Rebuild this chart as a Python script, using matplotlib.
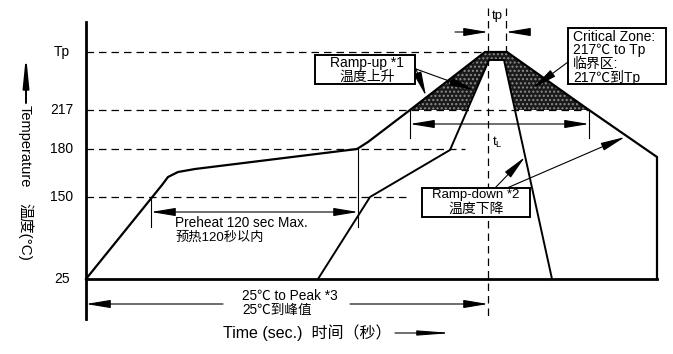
import matplotlib
matplotlib.use('Agg')
import matplotlib.pyplot as plt
from matplotlib.patches import Rectangle
import numpy as np

plt.rcParams['font.family'] = ['Liberation Sans', 'Noto Sans CJK SC']

# Diagram units: x = time position, y = temperature position (drawn top-down)
level_labels = ['Tp', '217', '180', '150', '25']
level_pos = [52, 110, 149, 197, 279]
level_dash_end = [485, 589, 465, 410, None]

# Upper (max) profile
outer_t = [86, 162, 168, 178, 195, 357, 368, 410, 485, 507, 589, 657, 657]
outer_y = [279, 185, 177, 172, 169, 149, 142, 110, 52, 52, 110, 157, 279]

# Lower (min) profile
inner_t = [318, 370, 450, 489, 504, 552]
inner_y = [279, 197, 150, 60, 60, 279]

# time markers
tp_left, tp_right = 488, 506
preheat_start, preheat_end = 151, 358
tl_start, tl_end = 410, 589

# note boxes: (x0, y0, x1, y1)
rampup_box = (315, 55, 415, 84)
critical_box = (568, 28, 666, 84)
rampdown_box = (422, 188, 530, 217)


def above(xs, ys, level):
    """Part of a polyline that lies above a temperature level."""
    pts = []
    for i in range(len(xs) - 1):
        x0, y0, x1, y1 = xs[i], ys[i], xs[i + 1], ys[i + 1]
        if y0 <= level:
            pts.append((x0, y0))
        if (y0 - level) * (y1 - level) < 0:
            f = (level - y0) / (y1 - y0)
            pts.append((x0 + f * (x1 - x0), level))
    if ys[-1] <= level:
        pts.append((xs[-1], ys[-1]))
    return pts


def note_box(b):
    ax.add_patch(Rectangle((b[0], b[1]), b[2] - b[0], b[3] - b[1], facecolor='white',
                           edgecolor='black', lw=1.4, zorder=6))


fig = plt.figure(figsize=(6.73, 3.54), dpi=100)
ax = fig.add_axes([0, 0, 1, 1])
ax.set_xlim(0, 673)
ax.set_ylim(354, 0)
ax.axis('off')

# critical zone shading
zone = above(outer_t, outer_y, level_pos[1]) + above(inner_t, inner_y, level_pos[1])[::-1]
zone = np.array(zone)
ax.fill(zone[:, 0], zone[:, 1], facecolor='#1a1a1a', edgecolor='#8c8c8c',
        hatch='....', linewidth=0, zorder=1)

# dashed guide lines
dash = dict(color='black', lw=0.9, ls=(0, (6, 4)), zorder=2)
for y, xe in zip(level_pos[:-1], level_dash_end[:-1]):
    ax.plot([86, xe], [y, y], **dash)
ax.plot([tp_left, tp_left], [8, 320], **dash)
ax.plot([tp_right, tp_right], [8, 52], **dash)

# axes
ax.plot([86, 86], [22, 319], color='black', lw=2.0, zorder=3)
ax.plot([86, 657], [279, 279], color='black', lw=2.0, zorder=3)

# profiles
ax.plot(outer_t, outer_y, color='black', lw=1.6, zorder=4, solid_joinstyle='miter')
ax.plot(inner_t, inner_y, color='black', lw=1.4, zorder=4, solid_joinstyle='miter')

# tick labels
for lab, y in zip(level_labels, level_pos):
    ax.text(62, y, lab, ha='center', va='center', fontsize=10)

arr = dict(arrowstyle='-|>,head_length=1.5,head_width=0.25', color='black',
           lw=0.8, mutation_scale=10, shrinkA=0, shrinkB=0)
both = dict(arr, arrowstyle='<|-|>,head_length=1.5,head_width=0.25')

# vertical marker lines
ax.plot([preheat_start] * 2, [197, 227], color='black', lw=0.8)
ax.plot([preheat_end] * 2, [149, 227], color='black', lw=0.8)
ax.plot([tl_start] * 2, [110, 138], color='black', lw=0.8)
ax.plot([tl_end] * 2, [110, 138], color='black', lw=0.8)

# preheat arrow
ax.annotate('', xy=(preheat_start, 212), xytext=(preheat_end, 212), arrowprops=both)
ax.text(175, 223, 'Preheat 120 sec Max.', fontsize=9.8, va='center')
ax.text(175, 238, '预热120秒以内', fontsize=9.5, va='center')

# tL arrow
ax.annotate('', xy=(tl_start, 124), xytext=(tl_end, 124), arrowprops=both)
ax.text(497, 142, r'$\mathregular{t_L}$', fontsize=9.5, ha='center', va='center')

# tp arrows
ax.annotate('', xy=(tp_left, 32), xytext=(455, 32), arrowprops=arr)
ax.annotate('', xy=(tp_right, 32), xytext=(530, 32), arrowprops=arr)
ax.text(497, 16, 'tp', fontsize=9.5, ha='center', va='center')

# 25C to peak
ax.annotate('', xy=(86, 304), xytext=(223, 304), arrowprops=arr)
ax.annotate('', xy=(tp_left, 304), xytext=(350, 304), arrowprops=arr)
ax.text(242, 296, '25℃ to Peak *3', fontsize=9.8, va='center')
ax.text(242, 310, '25℃到峰值', fontsize=9.8, va='center')

# axis titles
ax.text(223, 333, 'Time (sec.)  时间（秒）', fontsize=11.5, va='center')
ax.annotate('', xy=(452, 333), xytext=(395, 333),
            arrowprops=dict(arr, arrowstyle='-|>,head_length=2.0,head_width=0.15'))
ax.annotate('', xy=(26, 55), xytext=(26, 103),
            arrowprops=dict(arr, lw=1.4, arrowstyle='-|>,head_length=1.8,head_width=0.18'))
ax.text(25, 146, 'Temperature', fontsize=10.5, rotation=-90, ha='center', va='center')
ax.text(25, 232, '温度(°C)', fontsize=11, rotation=-90, ha='center', va='center')

# Ramp-up
ax.annotate('', xy=(426, 96), xytext=(416, 69), arrowprops=arr)
ax.annotate('', xy=(474, 90), xytext=(416, 69), arrowprops=arr)
note_box(rampup_box)
ax.text(367, 63, 'Ramp-up *1', fontsize=10, ha='center', va='center', zorder=7)
ax.text(367, 77, '温度上升', fontsize=10, ha='center', va='center', zorder=7)

# Critical zone
ax.annotate('', xy=(533, 88), xytext=(568, 62), arrowprops=arr)
note_box(critical_box)
for i, line in enumerate(['Critical Zone:', '217℃ to Tp', '临界区:', '217℃到Tp']):
    ax.text(573, 37 + 13.4 * i, line, fontsize=10, ha='left', va='center', zorder=7)

# Ramp-down
ax.annotate('', xy=(525, 157), xytext=(495, 188), arrowprops=arr)
ax.annotate('', xy=(625, 137), xytext=(507, 188), arrowprops=arr)
note_box(rampdown_box)
ax.text(476, 195, 'Ramp-down *2', fontsize=9.5, ha='center', va='center', zorder=7)
ax.text(476, 209, '温度下降', fontsize=10, ha='center', va='center', zorder=7)

fig.savefig('out.png', dpi=100)
